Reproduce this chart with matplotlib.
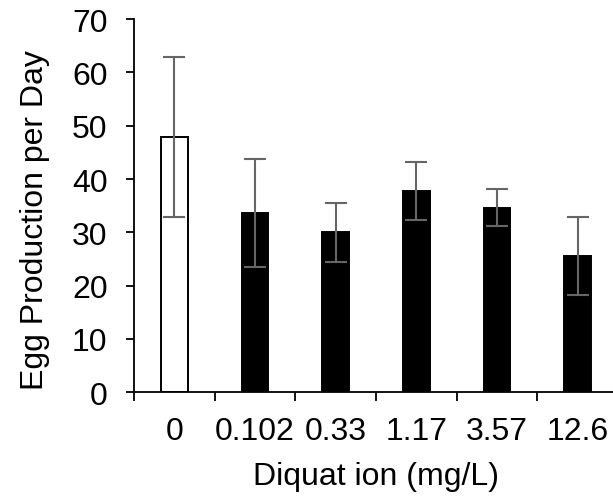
import matplotlib
matplotlib.use("Agg")
from matplotlib import pyplot as plt
import numpy as np

plt.rcParams['font.family'] = ['Liberation Sans', 'DejaVu Sans']

# данные
doses = ["0", "0.102", "0.33", "1.17", "3.57", "12.6"]
eggs = [47.8, 33.6, 30.0, 37.8, 34.6, 25.6]
err = [15.0, 10.1, 5.5, 5.4, 3.5, 7.3]
fills = ["white", "black", "black", "black", "black", "black"]

fig = plt.figure(figsize=(6.13, 5.02), dpi=100)
ax = fig.add_axes([0.2186, 0.2165, 0.7894, 0.7435])

x = np.arange(len(doses))
ax.bar(x, eggs, width=0.33, color=fills, edgecolor="black", linewidth=1.4, zorder=2)
ax.errorbar(x, eggs, yerr=err, fmt="none", ecolor="#666666", elinewidth=1.5,
            capsize=8, capthick=1.5, zorder=3)

ax.set_xlim(-0.5, 5.5)
ax.set_ylim(0, 70)
ax.set_yticks(np.arange(0, 71, 10))
ax.set_xticks(x)
ax.set_xticklabels(doses)
ax.set_xticks(np.arange(-0.5, 5.6, 1), minor=True)

fs = 23
ax.tick_params(axis="x", which="major", length=0, pad=17, labelsize=fs)
ax.tick_params(axis="x", which="minor", length=6.5, width=1.3, direction="out")
ax.tick_params(axis="y", length=6, width=1.3, direction="out", pad=13, labelsize=fs)

ax.spines['right'].set_visible(False)
ax.spines['top'].set_visible(False)
ax.spines['left'].set_linewidth(1.3)
ax.spines['bottom'].set_linewidth(1.3)

ax.set_xlabel("Diquat ion (mg/L)", fontsize=fs, labelpad=11)
ax.set_ylabel("Egg Production per Day", fontsize=fs, labelpad=16)
ax.yaxis.label.set_y(0.465)

fig.savefig("out.png", dpi=100)
